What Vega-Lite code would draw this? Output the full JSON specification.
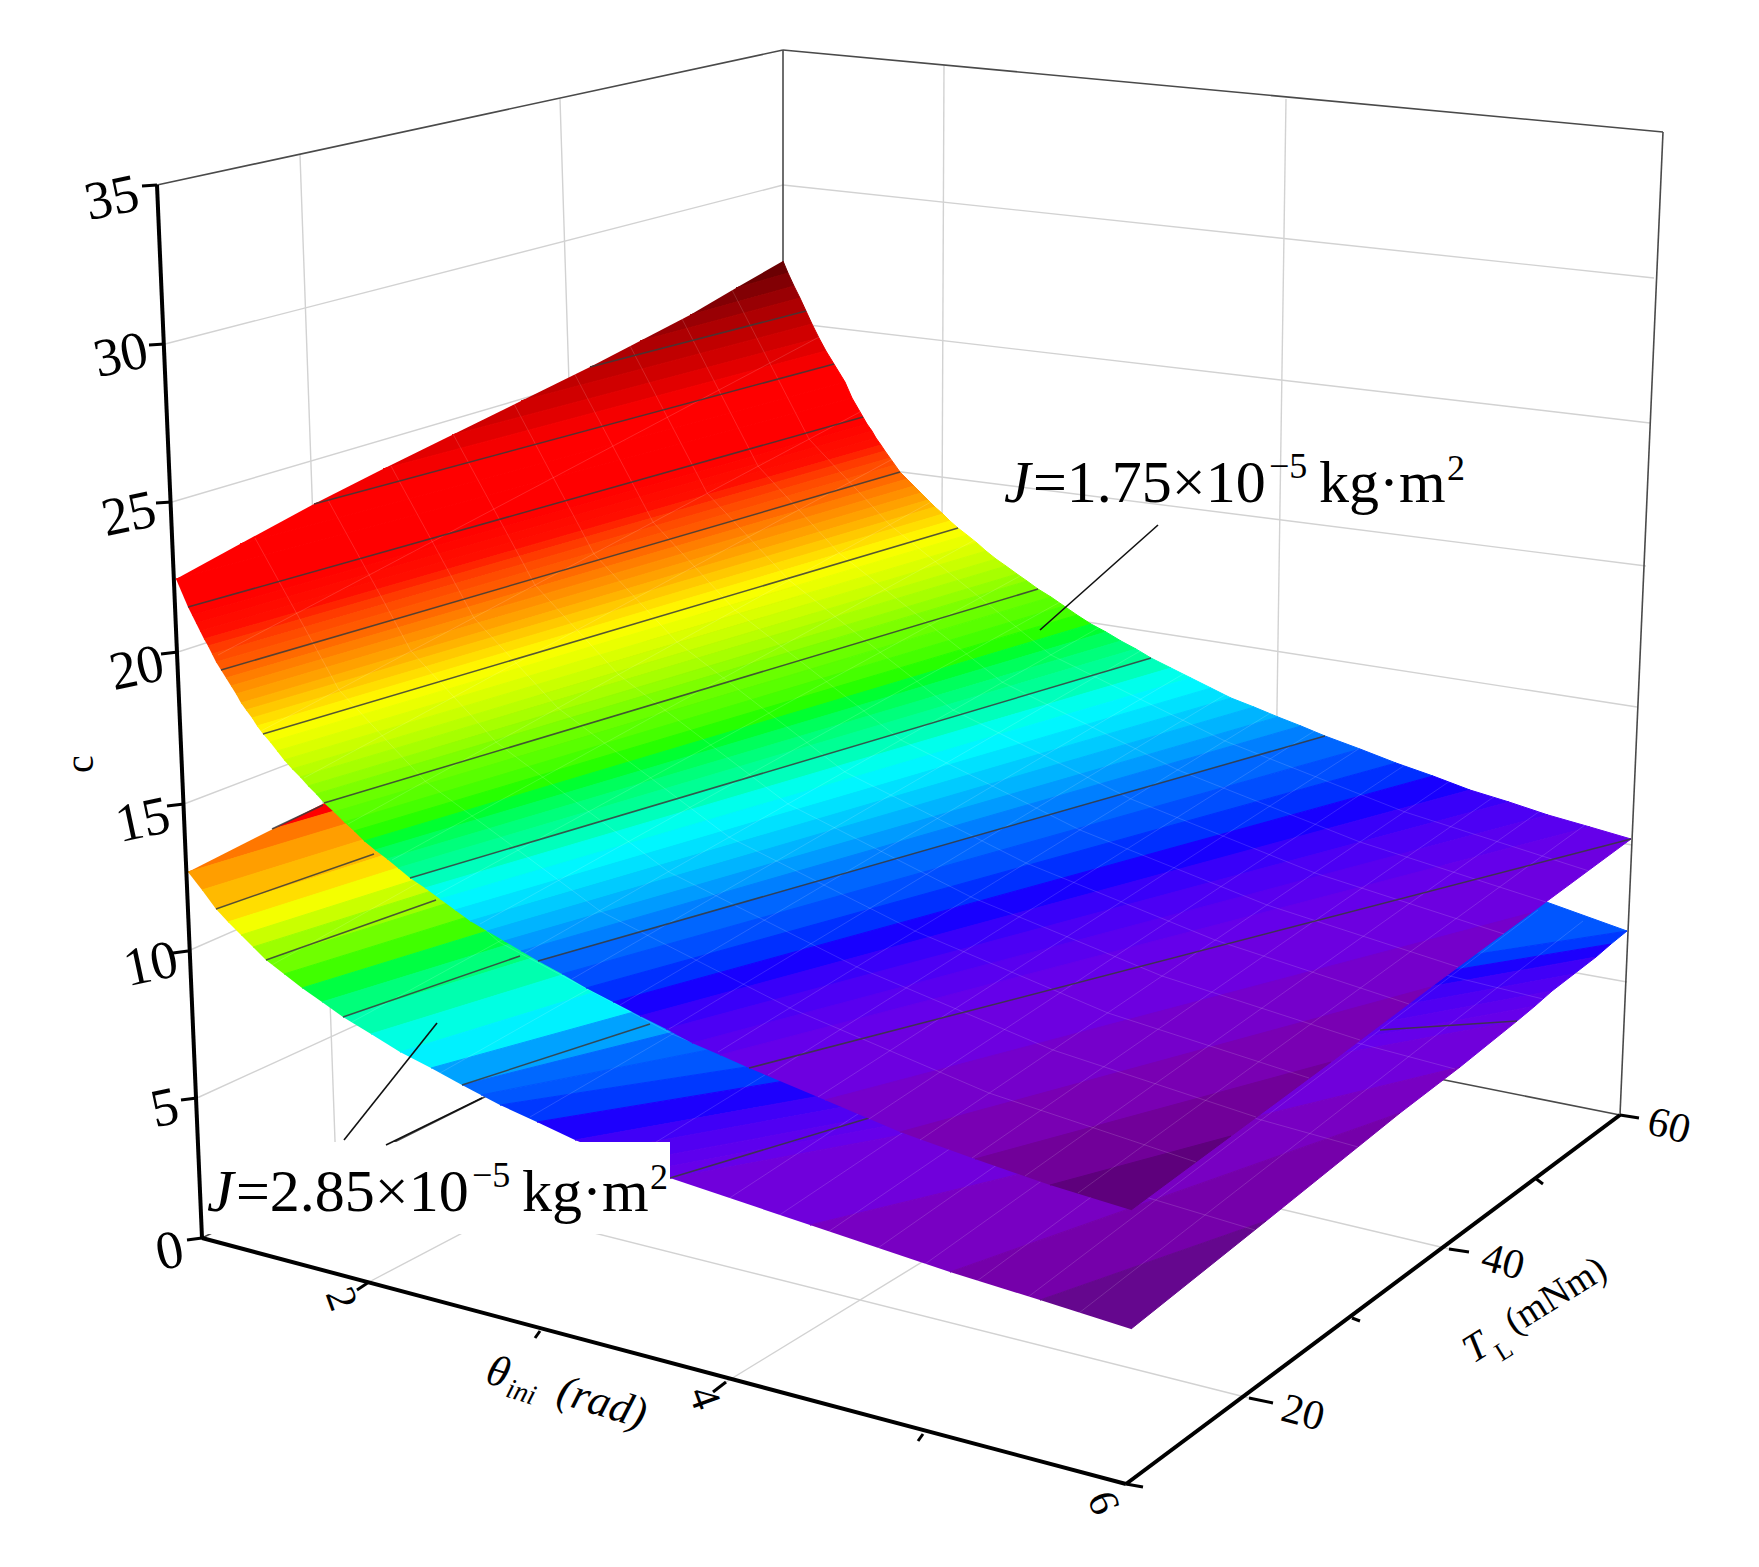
{
  "$schema": "https://vega.github.io/schema/vega-lite/v6.json",
  "description": "Projected 3D surfaces of c over theta_ini and T_L for two inertia values.",
  "autosize": {"type": "fit", "contains": "padding"},
  "padding": 0,
  "width": 1759,
  "height": 1567,
  "background": "white",
  "view": {"stroke": null},
  "encoding": {
    "x": {"field": "u", "type": "quantitative", "axis": null, "scale": {"domain": [0, 1759], "nice": false, "zero": false}},
    "y": {"field": "v", "type": "quantitative", "axis": null, "scale": {"domain": [0, 1567], "reverse": true, "nice": false, "zero": false}}
  },
  "layer": [
    {
      "data": {"values": [
        {"u":165,"v":344,"u2":783,"v2":185},{"u":172,"v":502,"u2":783,"v2":322},{"u":178,"v":652,"u2":783,"v2":457},
        {"u":184,"v":804,"u2":783,"v2":575},{"u":188,"v":951,"u2":783,"v2":690},{"u":197,"v":1098,"u2":783,"v2":830},
        {"u":783,"v":185,"u2":1654,"v2":278},{"u":783,"v":322,"u2":1650,"v2":423},{"u":783,"v":457,"u2":1646,"v2":566},
        {"u":783,"v":575,"u2":1637,"v2":707},{"u":783,"v":690,"u2":1632,"v2":845},{"u":783,"v":830,"u2":1627,"v2":982},
        {"u":300,"v":155,"u2":336,"v2":1169},{"u":560,"v":99,"u2":590,"v2":1045},
        {"u":944,"v":65,"u2":940,"v2":980},{"u":1286,"v":99,"u2":1272,"v2":1046},
        {"u":340,"v":1169,"u2":1249,"v2":1398},{"u":590,"v":1045,"u2":1449,"v2":1249},
        {"u":369,"v":1282,"u2":944,"v2":980},{"u":726,"v":1382,"u2":1275,"v2":1046}
      ]},
      "mark": {"type": "rule", "color": "#d2d2d2", "strokeWidth": 1.4},
      "encoding": {"x2": {"field": "u2"}, "y2": {"field": "v2"}}
    },
    {
      "data": {"values": [
        {"u":157,"v":185,"u2":783,"v2":50},{"u":783,"v":50,"u2":1663,"v2":132},{"u":1663,"v":132,"u2":1620,"v2":1115},
        {"u":783,"v":50,"u2":783,"v2":948},{"u":783,"v":948,"u2":1620,"v2":1115},{"u":202,"v":1238,"u2":783,"v2":948}
      ]},
      "mark": {"type": "rule", "color": "#4a4a4a", "strokeWidth": 1.6},
      "encoding": {"x2": {"field": "u2"}, "y2": {"field": "v2"}}
    },
    {
      "data": {"values": [
        {"c":14,"u":[783,783,850,273],"v":[572,572,660,829],"o":[0,1,2,3]},
        {"c":12.6,"u":[273,850,860,188],"v":[829,660,668,872],"o":[0,1,2,3]},
        {"c":12.03,"u":[188,860,880,202],"v":[872,668,679,890],"o":[0,1,2,3]},
        {"c":11.68,"u":[202,880,900,216],"v":[890,679,690,909],"o":[0,1,2,3]},
        {"c":11.3,"u":[216,900,925,228],"v":[909,690,700,922],"o":[0,1,2,3]},
        {"c":10.9,"u":[228,925,950,241],"v":[922,700,710,935],"o":[0,1,2,3]},
        {"c":10.53,"u":[241,950,975,253],"v":[935,710,720,947],"o":[0,1,2,3]},
        {"c":10.18,"u":[253,975,1000,266],"v":[947,720,730,960],"o":[0,1,2,3]},
        {"c":9.8,"u":[266,1000,1030,284],"v":[960,730,742,974],"o":[0,1,2,3]},
        {"c":9.4,"u":[284,1030,1060,302],"v":[974,742,755,988],"o":[0,1,2,3]},
        {"c":9.03,"u":[302,1060,1090,322],"v":[988,755,765,1002],"o":[0,1,2,3]},
        {"c":8.68,"u":[322,1090,1120,343],"v":[1002,765,775,1017],"o":[0,1,2,3]},
        {"c":8.3,"u":[343,1120,1170,371],"v":[1017,775,787,1034],"o":[0,1,2,3]},
        {"c":7.9,"u":[371,1170,1220,400],"v":[1034,787,800,1052],"o":[0,1,2,3]},
        {"c":7.53,"u":[400,1220,1310,431],"v":[1052,800,825,1068],"o":[0,1,2,3]},
        {"c":7.18,"u":[431,1310,1400,462],"v":[1068,825,850,1085],"o":[0,1,2,3]},
        {"c":6.93,"u":[462,1400,1513,481],"v":[1085,850,890,1095],"o":[0,1,2,3]},
        {"c":6.78,"u":[481,1513,1627,500],"v":[1095,890,931,1105],"o":[0,1,2,3]},
        {"c":6.58,"u":[500,1627,1611,537],"v":[1105,931,944,1122],"o":[0,1,2,3]},
        {"c":6.33,"u":[537,1611,1596,575],"v":[1122,944,957,1140],"o":[0,1,2,3]},
        {"c":6.1,"u":[575,1596,1574,602],"v":[1140,957,974,1151],"o":[0,1,2,3]},
        {"c":5.9,"u":[602,1574,1552,630],"v":[1151,974,991,1162],"o":[0,1,2,3]},
        {"c":5.73,"u":[630,1552,1535,650],"v":[1162,991,1006,1170],"o":[0,1,2,3]},
        {"c":5.58,"u":[650,1535,1517,670],"v":[1170,1006,1021,1178],"o":[0,1,2,3]},
        {"c":5.37,"u":[670,1517,1460,810],"v":[1178,1021,1067,1225],"o":[0,1,2,3]},
        {"c":5.12,"u":[810,1460,1400,950],"v":[1225,1067,1113,1272],"o":[0,1,2,3]},
        {"c":4.92,"u":[950,1400,1266,1040],"v":[1272,1113,1221,1300],"o":[0,1,2,3]},
        {"c":4.77,"u":[1040,1266,1131,1131],"v":[1300,1221,1329,1329],"o":[0,1,2,3]}
      ]},
      "transform": [{"flatten": ["u", "v", "o"]}],
      "mark": {"type": "line", "strokeWidth": 1, "interpolate": "linear"},
      "encoding": {
        "order": {"field": "o"},
        "detail": {"field": "c"},
        "fill": {"field": "c", "type": "quantitative", "legend": null, "scale": {"domain": [4.7,4.9,5.1,5.5,6.4,7,7.6,8.5,9.2,10,11,11.5,12.2,13,14,15], "range": ["#5c0a80","#7500a8","#7800c0","#6a00e8","#0000ff","#0070ff","#00ffff","#00ff90","#00ff00","#80ff00","#ffff00","#ffc800","#ff9000","#ff5a00","#ff0000","#a00000"]}},
        "stroke": {"field": "c", "type": "quantitative", "legend": null, "scale": {"domain": [4.7,4.9,5.1,5.5,6.4,7,7.6,8.5,9.2,10,11,11.5,12.2,13,14,15], "range": ["#5c0a80","#7500a8","#7800c0","#6a00e8","#0000ff","#0070ff","#00ffff","#00ff90","#00ff00","#80ff00","#ffff00","#ffc800","#ff9000","#ff5a00","#ff0000","#a00000"]}}
      }
    },
    {
      "data": {"values": [
        {"u":270,"v":966,"u2":860,"v2":635},{"u":352,"v":1022,"u2":940,"v2":700},{"u":440,"v":1073,"u2":1020,"v2":745},
        {"u":530,"v":1117,"u2":1100,"v2":785},{"u":627,"v":1160,"u2":1186,"v2":815},{"u":725,"v":1201,"u2":1272,"v2":843},
        {"u":775,"v":1218,"u2":1316,"v2":856},{"u":825,"v":1234,"u2":1360,"v2":869},{"u":875,"v":1250,"u2":1405,"v2":880},
        {"u":925,"v":1264,"u2":1450,"v2":890},{"u":977,"v":1281,"u2":1494,"v2":901},{"u":1028,"v":1297,"u2":1538,"v2":910},
        {"u":1079,"v":1313,"u2":1583,"v2":921}
      ]},
      "mark": {"type": "rule", "color": "white", "strokeWidth": 1, "opacity": 0.14},
      "encoding": {"x2": {"field": "u2"}, "y2": {"field": "v2"}}
    },
    {
      "data": {"values": [
        {"id":"t20","u":[337,499,672,862,1056,1255],"v":[797,942,1034,1112,1170,1230],"o":[0,1,2,3,4,5]},
        {"id":"t30","u":[460,621,790,975,1165,1358],"v":[735,875,965,1037,1093,1147],"o":[0,1,2,3,4,5]},
        {"id":"t40","u":[577,737,903,1083,1268,1455],"v":[676,811,900,967,1019,1069],"o":[0,1,2,3,4,5]},
        {"id":"t50","u":[682,840,1003,1179,1361,1543],"v":[623,755,841,904,954,999],"o":[0,1,2,3,4,5]}
      ]},
      "transform": [{"flatten": ["u", "v", "o"]}],
      "mark": {"type": "line", "color": "white", "strokeWidth": 1, "opacity": 0.14},
      "encoding": {"order": {"field": "o"}, "detail": {"field": "id"}}
    },
    {
      "data": {"values": [
        {"u":272,"v":829,"u2":323,"v2":805},{"u":216,"v":909,"u2":374,"v2":854},{"u":266,"v":960,"u2":436,"v2":900},
        {"u":343,"v":1017,"u2":520,"v2":956},{"u":462,"v":1085,"u2":650,"v2":1024},{"u":670,"v":1178,"u2":869,"v2":1118},
        {"u":1380,"v":1030,"u2":1517,"v2":1021}
      ]},
      "mark": {"type": "rule", "color": "#3a3a3a", "strokeWidth": 1.5, "opacity": 0.85},
      "encoding": {"x2": {"field": "u2"}, "y2": {"field": "v2"}}
    },
    {
      "data": {"values": [{"u":205,"v":1142,"u2":670,"v2":1234}]},
      "mark": {"type": "rect", "color": "white"},
      "encoding": {"x2": {"field": "u2"}, "y2": {"field": "v2"}}
    },
    {
      "data": {"values": [
        {"c":27.13,"u":[783,783,788,736],"v":[261,261,273,288],"o":[0,1,2,3]},
        {"c":26.78,"u":[736,788,794,690],"v":[288,273,286,315],"o":[0,1,2,3]},
        {"c":26.45,"u":[690,794,800,640],"v":[315,286,298,341],"o":[0,1,2,3]},
        {"c":26.15,"u":[640,800,806,590],"v":[341,298,311,367],"o":[0,1,2,3]},
        {"c":25.75,"u":[590,806,812,521],"v":[367,311,324,401],"o":[0,1,2,3]},
        {"c":25.25,"u":[521,812,819,452],"v":[401,324,338,435],"o":[0,1,2,3]},
        {"c":24.75,"u":[452,819,826,383],"v":[435,338,351,469],"o":[0,1,2,3]},
        {"c":24.25,"u":[383,826,834,314],"v":[469,351,364,504],"o":[0,1,2,3]},
        {"c":23.65,"u":[314,834,845,240],"v":[504,364,382,544],"o":[0,1,2,3]},
        {"c":23,"u":[240,845,852,176],"v":[544,382,398,579],"o":[0,1,2,3]},
        {"c":22.35,"u":[176,852,863,188],"v":[579,398,417,607],"o":[0,1,2,3]},
        {"c":21.88,"u":[188,863,867,192],"v":[607,417,424,615],"o":[0,1,2,3]},
        {"c":21.63,"u":[192,867,872,196],"v":[615,424,431,623],"o":[0,1,2,3]},
        {"c":21.38,"u":[196,872,876,200],"v":[623,431,438,631],"o":[0,1,2,3]},
        {"c":21.13,"u":[200,876,881,204],"v":[631,438,445,639],"o":[0,1,2,3]},
        {"c":20.88,"u":[204,881,885,208],"v":[639,445,451,646],"o":[0,1,2,3]},
        {"c":20.63,"u":[208,885,890,212],"v":[646,451,458,654],"o":[0,1,2,3]},
        {"c":20.38,"u":[212,890,895,216],"v":[654,458,465,662],"o":[0,1,2,3]},
        {"c":20.13,"u":[216,895,900,221],"v":[662,465,472,670],"o":[0,1,2,3]},
        {"c":19.88,"u":[221,900,907,226],"v":[670,472,479,678],"o":[0,1,2,3]},
        {"c":19.63,"u":[226,907,914,231],"v":[678,479,486,686],"o":[0,1,2,3]},
        {"c":19.38,"u":[231,914,921,236],"v":[686,486,493,694],"o":[0,1,2,3]},
        {"c":19.13,"u":[236,921,928,241],"v":[694,493,500,703],"o":[0,1,2,3]},
        {"c":18.88,"u":[241,928,935,246],"v":[703,500,507,710],"o":[0,1,2,3]},
        {"c":18.63,"u":[246,935,943,252],"v":[710,507,514,718],"o":[0,1,2,3]},
        {"c":18.38,"u":[252,943,950,257],"v":[718,514,521,726],"o":[0,1,2,3]},
        {"c":18.13,"u":[257,950,958,263],"v":[726,521,528,734],"o":[0,1,2,3]},
        {"c":17.88,"u":[263,958,967,270],"v":[734,528,535,742],"o":[0,1,2,3]},
        {"c":17.63,"u":[270,967,977,277],"v":[742,535,543,751],"o":[0,1,2,3]},
        {"c":17.38,"u":[277,977,986,284],"v":[751,543,551,760],"o":[0,1,2,3]},
        {"c":17.13,"u":[284,986,996,292],"v":[760,551,559,769],"o":[0,1,2,3]},
        {"c":16.88,"u":[292,996,1006,300],"v":[769,559,566,777],"o":[0,1,2,3]},
        {"c":16.63,"u":[300,1006,1017,308],"v":[777,566,574,786],"o":[0,1,2,3]},
        {"c":16.38,"u":[308,1017,1027,316],"v":[786,574,581,794],"o":[0,1,2,3]},
        {"c":16.13,"u":[316,1027,1038,324],"v":[794,581,589,803],"o":[0,1,2,3]},
        {"c":15.88,"u":[324,1038,1051,334],"v":[803,589,597,812],"o":[0,1,2,3]},
        {"c":15.63,"u":[334,1051,1064,344],"v":[812,597,606,822],"o":[0,1,2,3]},
        {"c":15.38,"u":[344,1064,1077,354],"v":[822,606,615,831],"o":[0,1,2,3]},
        {"c":15.13,"u":[354,1077,1091,364],"v":[831,615,624,841],"o":[0,1,2,3]},
        {"c":14.88,"u":[364,1091,1106,375],"v":[841,624,632,850],"o":[0,1,2,3]},
        {"c":14.63,"u":[375,1106,1121,387],"v":[850,632,641,859],"o":[0,1,2,3]},
        {"c":14.38,"u":[387,1121,1136,398],"v":[859,641,649,868],"o":[0,1,2,3]},
        {"c":14.13,"u":[398,1136,1151,410],"v":[868,649,658,878],"o":[0,1,2,3]},
        {"c":13.88,"u":[410,1151,1171,425],"v":[878,658,668,888],"o":[0,1,2,3]},
        {"c":13.63,"u":[425,1171,1191,440],"v":[888,668,678,899],"o":[0,1,2,3]},
        {"c":13.38,"u":[440,1191,1211,455],"v":[899,678,688,910],"o":[0,1,2,3]},
        {"c":13.13,"u":[455,1211,1231,470],"v":[910,688,698,921],"o":[0,1,2,3]},
        {"c":12.88,"u":[470,1231,1254,487],"v":[921,698,707,931],"o":[0,1,2,3]},
        {"c":12.63,"u":[487,1254,1278,504],"v":[931,707,717,941],"o":[0,1,2,3]},
        {"c":12.38,"u":[504,1278,1301,521],"v":[941,717,726,951],"o":[0,1,2,3]},
        {"c":12.13,"u":[521,1301,1325,538],"v":[951,726,736,961],"o":[0,1,2,3]},
        {"c":11.88,"u":[538,1325,1360,562],"v":[961,736,749,974],"o":[0,1,2,3]},
        {"c":11.63,"u":[562,1360,1396,586],"v":[974,749,763,988],"o":[0,1,2,3]},
        {"c":11.38,"u":[586,1396,1433,613],"v":[988,763,776,1002],"o":[0,1,2,3]},
        {"c":11.13,"u":[613,1433,1470,640],"v":[1002,776,790,1016],"o":[0,1,2,3]},
        {"c":10.88,"u":[640,1470,1509,666],"v":[1016,790,802,1029],"o":[0,1,2,3]},
        {"c":10.63,"u":[666,1509,1548,692],"v":[1029,802,815,1043],"o":[0,1,2,3]},
        {"c":10.38,"u":[692,1548,1590,720],"v":[1043,815,827,1055],"o":[0,1,2,3]},
        {"c":10.13,"u":[720,1590,1631,749],"v":[1055,827,839,1068],"o":[0,1,2,3]},
        {"c":9.75,"u":[749,1631,1531,825],"v":[1068,839,913,1100],"o":[0,1,2,3]},
        {"c":9.25,"u":[825,1531,1431,900],"v":[1100,913,987,1132],"o":[0,1,2,3]},
        {"c":8.75,"u":[900,1431,1331,975],"v":[1132,987,1062,1159],"o":[0,1,2,3]},
        {"c":8.25,"u":[975,1331,1231,1050],"v":[1159,1062,1136,1185],"o":[0,1,2,3]},
        {"c":7.75,"u":[1050,1231,1131,1131],"v":[1185,1136,1210,1210],"o":[0,1,2,3]}
      ]},
      "transform": [{"flatten": ["u", "v", "o"]}],
      "mark": {"type": "line", "strokeWidth": 1, "interpolate": "linear"},
      "encoding": {
        "order": {"field": "o"},
        "detail": {"field": "c"},
        "fill": {"field": "c", "type": "quantitative", "legend": null, "scale": {"domain": [7.5,8.5,9.5,10,11.2,12,13.5,14,15,16,18,19,20,21,22,24,25,26,27.3], "range": ["#55006e","#7a00a8","#7000d8","#6a00e8","#0000ff","#0070ff","#00ffff","#00ffa0","#00ff00","#70ff00","#ffff00","#ffaa00","#ff6000","#ff1000","#ff0000","#ff0000","#d80000","#b80000","#600000"]}},
        "stroke": {"field": "c", "type": "quantitative", "legend": null, "scale": {"domain": [7.5,8.5,9.5,10,11.2,12,13.5,14,15,16,18,19,20,21,22,24,25,26,27.3], "range": ["#55006e","#7a00a8","#7000d8","#6a00e8","#0000ff","#0070ff","#00ffff","#00ffa0","#00ff00","#70ff00","#ffff00","#ffaa00","#ff6000","#ff1000","#ff0000","#ff0000","#d80000","#b80000","#600000"]}}
      }
    },
    {
      "data": {"values": [
        {"u":218,"v":655,"u2":821,"v2":336},{"u":261,"v":731,"u2":860,"v2":412},{"u":304,"v":778,"u2":900,"v2":455},
        {"u":348,"v":824,"u2":940,"v2":497},{"u":392,"v":860,"u2":980,"v2":537},{"u":436,"v":895,"u2":1020,"v2":576},
        {"u":480,"v":924,"u2":1060,"v2":602},{"u":525,"v":953,"u2":1100,"v2":627},{"u":572,"v":979,"u2":1142,"v2":650},
        {"u":620,"v":1005,"u2":1185,"v2":673},{"u":669,"v":1029,"u2":1228,"v2":693},{"u":718,"v":1052,"u2":1272,"v2":712},
        {"u":768,"v":1075,"u2":1316,"v2":730},{"u":818,"v":1097,"u2":1360,"v2":748},{"u":869,"v":1119,"u2":1405,"v2":765},
        {"u":920,"v":1140,"u2":1450,"v2":781},{"u":972,"v":1158,"u2":1495,"v2":796},{"u":1025,"v":1176,"u2":1540,"v2":811},
        {"u":1078,"v":1193,"u2":1585,"v2":825}
      ]},
      "mark": {"type": "rule", "color": "white", "strokeWidth": 1, "opacity": 0.14},
      "encoding": {"x2": {"field": "u2"}, "y2": {"field": "v2"}}
    },
    {
      "data": {"values": [
        {"id":"t15","u":[255,339,425,600,790,989,1196],"v":[538,690,781,911,1008,1093,1162],"o":[0,1,2,3,4,5,6]},
        {"id":"t20","u":[328,411,496,669,857,1053,1256],"v":[500,651,742,872,967,1050,1117],"o":[0,1,2,3,4,5,6]},
        {"id":"t25","u":[391,474,558,729,915,1108,1309],"v":[466,618,708,837,931,1013,1078],"o":[0,1,2,3,4,5,6]},
        {"id":"t30","u":[453,535,619,788,971,1162,1360],"v":[434,585,675,804,897,976,1040],"o":[0,1,2,3,4,5,6]},
        {"id":"t35","u":[513,594,677,845,1026,1215,1409],"v":[402,554,642,772,863,940,1004],"o":[0,1,2,3,4,5,6]},
        {"id":"t40","u":[573,653,735,901,1080,1267,1458],"v":[371,522,610,740,830,905,967],"o":[0,1,2,3,4,5,6]},
        {"id":"t45","u":[628,707,789,953,1131,1315,1504],"v":[342,493,580,710,799,873,934],"o":[0,1,2,3,4,5,6]},
        {"id":"t50","u":[680,758,839,1002,1178,1360,1546],"v":[315,466,553,682,770,842,902],"o":[0,1,2,3,4,5,6]},
        {"id":"t55","u":[731,809,890,1051,1225,1405,1589],"v":[288,439,525,655,741,812,871],"o":[0,1,2,3,4,5,6]}
      ]},
      "transform": [{"flatten": ["u", "v", "o"]}],
      "mark": {"type": "line", "color": "white", "strokeWidth": 1, "opacity": 0.14},
      "encoding": {"order": {"field": "o"}, "detail": {"field": "id"}}
    },
    {
      "data": {"values": [
        {"u":590,"v":367,"u2":806,"v2":311},{"u":314,"v":504,"u2":834,"v2":364},{"u":188,"v":607,"u2":863,"v2":417},
        {"u":221,"v":670,"u2":900,"v2":472},{"u":263,"v":734,"u2":958,"v2":528},{"u":324,"v":803,"u2":1038,"v2":589},
        {"u":410,"v":878,"u2":1151,"v2":658},{"u":538,"v":961,"u2":1325,"v2":736},{"u":749,"v":1068,"u2":1631,"v2":839}
      ]},
      "mark": {"type": "rule", "color": "#3a3a3a", "strokeWidth": 1.5, "opacity": 0.85},
      "encoding": {"x2": {"field": "u2"}, "y2": {"field": "v2"}}
    },
    {
      "data": {"values": [
        {"u":1158,"v":525,"u2":1040,"v2":630},{"u":344,"v":1140,"u2":437,"v2":1023},{"u":386,"v":1145,"u2":482,"v2":1098}
      ]},
      "mark": {"type": "rule", "color": "#111111", "strokeWidth": 1.6},
      "encoding": {"x2": {"field": "u2"}, "y2": {"field": "v2"}}
    },
    {
      "data": {"values": [
        {"u":157,"v":185,"u2":202,"v2":1238},{"u":202,"v":1238,"u2":1126,"v2":1484},{"u":1126,"v":1484,"u2":1620,"v2":1115}
      ]},
      "mark": {"type": "rule", "color": "black", "strokeWidth": 4},
      "encoding": {"x2": {"field": "u2"}, "y2": {"field": "v2"}}
    },
    {
      "data": {"values": [
        {"u":142,"v":186,"u2":157,"v2":185},{"u":149,"v":345,"u2":165,"v2":344},{"u":156,"v":503,"u2":172,"v2":502},
        {"u":161,"v":654,"u2":178,"v2":652},{"u":167,"v":806,"u2":184,"v2":804},{"u":173,"v":953,"u2":188,"v2":951},
        {"u":181,"v":1100,"u2":197,"v2":1098},{"u":187,"v":1240,"u2":202,"v2":1238},
        {"u":369,"v":1282,"u2":357,"v2":1290},{"u":540,"v":1331,"u2":535,"v2":1338},{"u":726,"v":1382,"u2":713,"v2":1392},
        {"u":923,"v":1434,"u2":918,"v2":1441},{"u":1126,"v":1484,"u2":1143,"v2":1487},
        {"u":1620,"v":1115,"u2":1639,"v2":1118},{"u":1535,"v":1178,"u2":1543,"v2":1184},{"u":1449,"v":1249,"u2":1469,"v2":1252},
        {"u":1352,"v":1318,"u2":1360,"v2":1321},{"u":1249,"v":1398,"u2":1273,"v2":1403}
      ]},
      "mark": {"type": "rule", "color": "black", "strokeWidth": 3},
      "encoding": {"x2": {"field": "u2"}, "y2": {"field": "v2"}}
    },
    {
      "data": {"values": [
        {"u":112,"v":199,"t":"35"},{"u":121,"v":356,"t":"30"},{"u":129,"v":515,"t":"25"},{"u":137,"v":669,"t":"20"},
        {"u":143,"v":821,"t":"15"},{"u":151,"v":965,"t":"10"},{"u":165,"v":1109,"t":"5"},{"u":170,"v":1252,"t":"0"}
      ]},
      "mark": {"type": "text", "font": "Liberation Serif", "fontSize": 54, "angle": -12, "align": "center", "baseline": "middle"},
      "encoding": {"text": {"field": "t"}}
    },
    {
      "data": {"values": [{"u":341,"v":1299,"t":"2"},{"u":704,"v":1398,"t":"4"},{"u":1103,"v":1503,"t":"6"}]},
      "mark": {"type": "text", "font": "Liberation Serif", "fontSize": 42, "angle": 70, "align": "center", "baseline": "middle"},
      "encoding": {"text": {"field": "t"}}
    },
    {
      "data": {"values": [{"u":1669,"v":1126,"t":"60"},{"u":1503,"v":1262,"t":"40"},{"u":1303,"v":1413,"t":"20"}]},
      "mark": {"type": "text", "font": "Liberation Serif", "fontSize": 42, "angle": 15, "align": "center", "baseline": "middle"},
      "encoding": {"text": {"field": "t"}}
    },
    {
      "data": {"values": [{"u":81,"v":764,"t":"c"}]},
      "mark": {"type": "text", "font": "Liberation Serif", "fontSize": 40, "angle": -90, "align": "center", "baseline": "middle"},
      "encoding": {"text": {"field": "t"}}
    },
    {
      "data": {"values": [{"u":498,"v":1373,"t":"θ"},{"u":602,"v":1403,"t":"(rad)"}]},
      "mark": {"type": "text", "font": "Liberation Serif", "fontStyle": "italic", "fontSize": 44, "angle": 17, "align": "center", "baseline": "middle"},
      "encoding": {"text": {"field": "t"}}
    },
    {
      "data": {"values": [{"u":521,"v":1393,"t":"ini"}]},
      "mark": {"type": "text", "font": "Liberation Serif", "fontStyle": "italic", "fontSize": 28, "angle": 17, "align": "center", "baseline": "middle"},
      "encoding": {"text": {"field": "t"}}
    },
    {
      "data": {"values": [{"u":1476,"v":1348,"t":"T"}]},
      "mark": {"type": "text", "font": "Liberation Serif", "fontStyle": "italic", "fontSize": 40, "angle": -32, "align": "center", "baseline": "middle"},
      "encoding": {"text": {"field": "t"}}
    },
    {
      "data": {"values": [{"u":1504,"v":1351,"t":"L"}]},
      "mark": {"type": "text", "font": "Liberation Serif", "fontSize": 26, "angle": -32, "align": "center", "baseline": "middle"},
      "encoding": {"text": {"field": "t"}}
    },
    {
      "data": {"values": [{"u":1556,"v":1296,"t":"(mNm)"}]},
      "mark": {"type": "text", "font": "Liberation Serif", "fontSize": 38, "angle": -32, "align": "center", "baseline": "middle"},
      "encoding": {"text": {"field": "t"}}
    },
    {
      "data": {"values": [{"u":1004,"v":502,"t":"J"},{"u":207,"v":1211,"t":"J"}]},
      "mark": {"type": "text", "font": "Liberation Serif", "fontStyle": "italic", "fontSize": 60, "align": "left", "baseline": "alphabetic"},
      "encoding": {"text": {"field": "t"}}
    },
    {
      "data": {"values": [
        {"u":1033,"v":502,"t":"=1.75×10"},{"u":1319,"v":502,"t":"kg·m"},
        {"u":236,"v":1211,"t":"=2.85×10"},{"u":522,"v":1211,"t":"kg·m"}
      ]},
      "mark": {"type": "text", "font": "Liberation Serif", "fontSize": 60, "align": "left", "baseline": "alphabetic"},
      "encoding": {"text": {"field": "t"}}
    },
    {
      "data": {"values": [
        {"u":1269,"v":478,"t":"−5"},{"u":1447,"v":480,"t":"2"},
        {"u":472,"v":1187,"t":"−5"},{"u":650,"v":1189,"t":"2"}
      ]},
      "mark": {"type": "text", "font": "Liberation Serif", "fontSize": 36, "align": "left", "baseline": "alphabetic"},
      "encoding": {"text": {"field": "t"}}
    }
  ],
  "resolve": {"scale": {"fill": "independent", "stroke": "independent"}}
}
